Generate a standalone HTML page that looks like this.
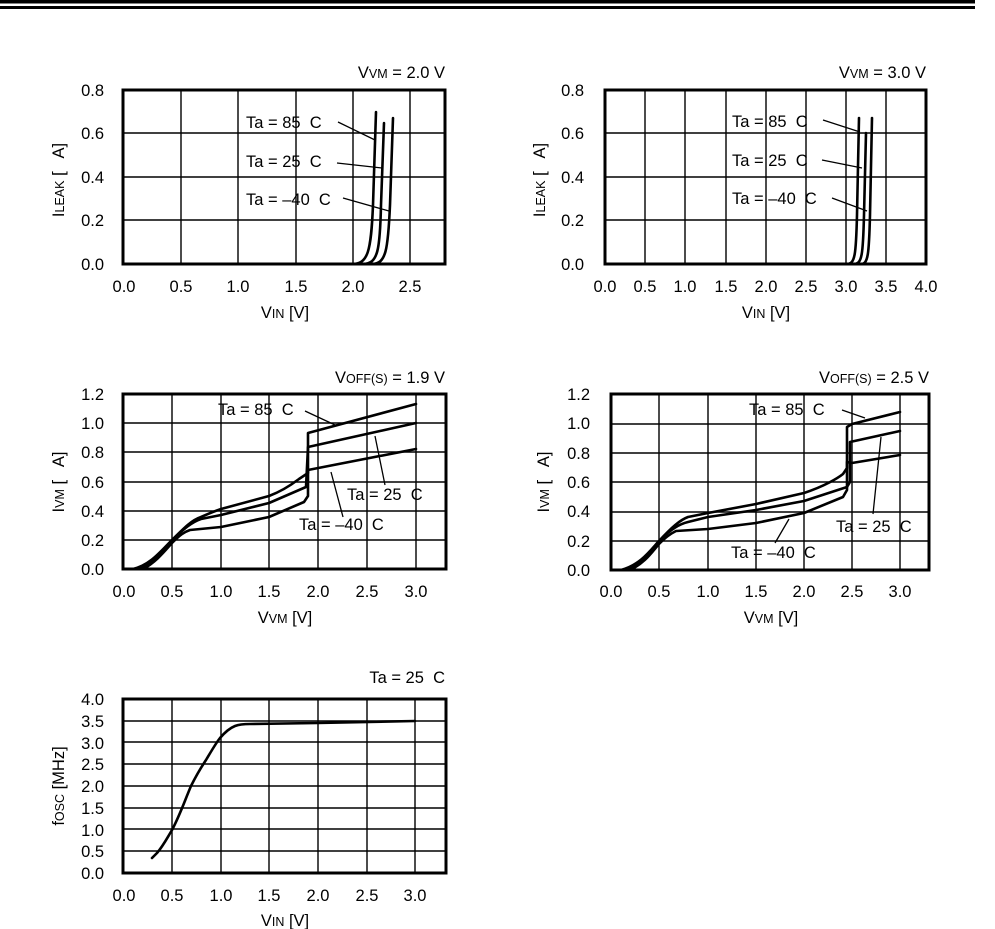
<!DOCTYPE html>
<html><head><meta charset="utf-8"><style>
html,body{margin:0;padding:0;background:#fff;}
svg{display:block;}
text{font-family:"Liberation Sans",Arial,sans-serif;font-size:16.5px;fill:#000;}
.sub{font-size:12.5px;}
.g{stroke:#000;stroke-width:1.4;fill:none;}
.b{stroke:#000;stroke-width:3;fill:none;}
.c{stroke:#000;stroke-width:2.6;fill:none;stroke-linejoin:round;stroke-linecap:round;}
.l{stroke:#000;stroke-width:1.3;fill:none;}
</style></head><body>
<svg width="995" height="929" viewBox="0 0 995 929" xmlns="http://www.w3.org/2000/svg">
<rect x="0" y="0" width="975" height="3.5" fill="#000"/>
<rect x="0" y="6" width="975" height="3" fill="#000"/>

<!-- Chart 1 -->
<g>
<path class="g" d="M123 220H445M123 177H445M123 133H445M181 90V264M238 90V264M296 90V264M353 90V264M410 90V264"/>
<rect class="b" x="123" y="90" width="322" height="174"/>
<path class="c" d="M123 264L352 264C368 264 371 252 373 205L376 112"/>
<path class="c" d="M123 264L363 264C378 264 380 250 381 205L384 123"/>
<path class="c" d="M123 264L372 264C386 264 388 250 390 205L393 118"/>
<path class="l" d="M338 122L375 140M337 163L382 168M343 198L389 211"/>
<text x="246" y="128">Ta = 85 &#160;C</text>
<text x="246" y="167">Ta = 25 &#160;C</text>
<text x="246" y="205">Ta = –40 &#160;C</text>
<text x="445" y="78" text-anchor="end">V<tspan class="sub">VM</tspan> = 2.0 V</text>
<g text-anchor="end"><text x="104" y="96">0.8</text><text x="104" y="139">0.6</text><text x="104" y="183">0.4</text><text x="104" y="226">0.2</text><text x="104" y="270">0.0</text></g>
<g text-anchor="middle"><text x="124" y="292">0.0</text><text x="181" y="292">0.5</text><text x="238" y="292">1.0</text><text x="296" y="292">1.5</text><text x="353" y="292">2.0</text><text x="410" y="292">2.5</text>
<text x="285" y="318">V<tspan class="sub">IN</tspan> [V]</text></g>
<text transform="translate(64,180) rotate(-90)" text-anchor="middle">I<tspan class="sub">LEAK</tspan> [ &#160; A]</text>
</g>

<!-- Chart 2 -->
<g>
<path class="g" d="M605 220H926M605 177H926M605 133H926M645 90V264M685 90V264M726 90V264M766 90V264M806 90V264M846 90V264M886 90V264"/>
<rect class="b" x="605" y="90" width="321" height="174"/>
<path class="c" d="M605 264L847 264C855 264 856 255 857 215L859 118"/>
<path class="c" d="M605 264L854 264C862 264 863 255 864 215L866 133"/>
<path class="c" d="M605 264L861 264C868 264 869 255 870 215L872 118"/>
<path class="l" d="M823 120L860 132M822 160L862 168M832 198L867 211"/>
<text x="732" y="127">Ta = 85 &#160;C</text>
<text x="732" y="166">Ta = 25 &#160;C</text>
<text x="732" y="204">Ta = –40 &#160;C</text>
<text x="926" y="78" text-anchor="end">V<tspan class="sub">VM</tspan> = 3.0 V</text>
<g text-anchor="end"><text x="584" y="96">0.8</text><text x="584" y="139">0.6</text><text x="584" y="183">0.4</text><text x="584" y="226">0.2</text><text x="584" y="270">0.0</text></g>
<g text-anchor="middle"><text x="605" y="292">0.0</text><text x="645" y="292">0.5</text><text x="685" y="292">1.0</text><text x="726" y="292">1.5</text><text x="766" y="292">2.0</text><text x="806" y="292">2.5</text><text x="846" y="292">3.0</text><text x="886" y="292">3.5</text><text x="926" y="292">4.0</text>
<text x="766" y="318">V<tspan class="sub">IN</tspan> [V]</text></g>
<text transform="translate(545,180) rotate(-90)" text-anchor="middle">I<tspan class="sub">LEAK</tspan> [ &#160; A]</text>
</g>

<!-- Chart 3 -->
<g>
<path class="g" d="M123 540H446M123 511H446M123 482H446M123 452H446M123 423H446M123 394H446M172 394V569M221 394V569M269 394V569M318 394V569M367 394V569M416 394V569"/>
<rect class="b" x="123" y="394" width="323" height="175"/>
<path class="c" d="M133 569C150 565 160 552 172 540C185 527 192 520 201 517C210 513 215 511 221 509L269 496C285 490 295 482 299 479L308 473L308 433L416 404"/>
<path class="c" d="M138 569C152 564 162 551 172 540C185 528 192 522 201 519L221 515L269 503L306 487L308 447L416 423"/>
<path class="c" d="M143 569C155 563 164 552 172 543C180 535 184 532 190 530L221 527L269 517L304 502L308 496L308 470L416 449"/>
<path class="l" d="M305 411L335 425M375 436L385 485M331 472L343 517"/>
<text x="218" y="415">Ta = 85 &#160;C</text>
<text x="347" y="500">Ta = 25 &#160;C</text>
<text x="299" y="530">Ta = –40 &#160;C</text>
<text x="445" y="383" text-anchor="end">V<tspan class="sub">OFF(S)</tspan> = 1.9 V</text>
<g text-anchor="end"><text x="104" y="400">1.2</text><text x="104" y="429">1.0</text><text x="104" y="458">0.8</text><text x="104" y="488">0.6</text><text x="104" y="517">0.4</text><text x="104" y="546">0.2</text><text x="104" y="575">0.0</text></g>
<g text-anchor="middle"><text x="124" y="597">0.0</text><text x="172" y="597">0.5</text><text x="221" y="597">1.0</text><text x="269" y="597">1.5</text><text x="318" y="597">2.0</text><text x="367" y="597">2.5</text><text x="416" y="597">3.0</text>
<text x="285" y="623">V<tspan class="sub">VM</tspan> [V]</text></g>
<text transform="translate(64,482) rotate(-90)" text-anchor="middle">I<tspan class="sub">VM</tspan> [ &#160; A]</text>
</g>

<!-- Chart 4 -->
<g>
<path class="g" d="M611 541H929M611 512H929M611 482H929M611 453H929M611 424H929M659 394V570M708 394V570M756 394V570M804 394V570M852 394V570M900 394V570"/>
<rect class="b" x="611" y="394" width="318" height="176"/>
<path class="c" d="M621 570C640 565 650 551 659 541C672 527 680 520 688 517L708 513L756 504L804 493C825 486 838 478 843 474L847 468L847 427L852 424L900 412"/>
<path class="c" d="M625 570C642 564 651 550 659 541C672 528 680 524 688 522L708 517L756 510L804 501L847 487L850 482L850 442L900 431"/>
<path class="c" d="M630 570C645 563 652 552 659 544C666 537 670 534 676 531L708 529L756 523L804 513L843 497L847 490L847 462L852 463L900 455"/>
<path class="l" d="M842 410L865 418M881 437L873 514M789 519L775 543"/>
<text x="749" y="415">Ta = 85 &#160;C</text>
<text x="836" y="532">Ta = 25 &#160;C</text>
<text x="731" y="558">Ta = –40 &#160;C</text>
<text x="929" y="383" text-anchor="end">V<tspan class="sub">OFF(S)</tspan> = 2.5 V</text>
<g text-anchor="end"><text x="590" y="400">1.2</text><text x="590" y="429">1.0</text><text x="590" y="459">0.8</text><text x="590" y="488">0.6</text><text x="590" y="517">0.4</text><text x="590" y="547">0.2</text><text x="590" y="576">0.0</text></g>
<g text-anchor="middle"><text x="611" y="597">0.0</text><text x="659" y="597">0.5</text><text x="708" y="597">1.0</text><text x="756" y="597">1.5</text><text x="804" y="597">2.0</text><text x="852" y="597">2.5</text><text x="900" y="597">3.0</text>
<text x="771" y="623">V<tspan class="sub">VM</tspan> [V]</text></g>
<text transform="translate(549,482) rotate(-90)" text-anchor="middle">I<tspan class="sub">VM</tspan> [ &#160; A]</text>
</g>

<!-- Chart 5 -->
<g>
<path class="g" d="M123 851H446M123 829H446M123 808H446M123 786H446M123 764H446M123 742H446M123 721H446M172 699V873M221 699V873M269 699V873M318 699V873M367 699V873M415 699V873"/>
<rect class="b" x="123" y="699" width="323" height="174"/>
<path class="c" d="M152 858L157 853C163 846 166 840 172 830C180 815 185 800 191 786C198 772 202 766 206 760C212 750 216 743 220 738C226 731 230 728 235 726C240 724 245 724 250 724L318 723L415 721"/>
<text x="445" y="683" text-anchor="end">Ta = 25 &#160;C</text>
<g text-anchor="end"><text x="104" y="705">4.0</text><text x="104" y="727">3.5</text><text x="104" y="749">3.0</text><text x="104" y="770">2.5</text><text x="104" y="792">2.0</text><text x="104" y="814">1.5</text><text x="104" y="836">1.0</text><text x="104" y="857">0.5</text><text x="104" y="879">0.0</text></g>
<g text-anchor="middle"><text x="124" y="901">0.0</text><text x="172" y="901">0.5</text><text x="221" y="901">1.0</text><text x="269" y="901">1.5</text><text x="318" y="901">2.0</text><text x="367" y="901">2.5</text><text x="415" y="901">3.0</text>
<text x="285" y="926">V<tspan class="sub">IN</tspan> [V]</text></g>
<text transform="translate(64,786) rotate(-90)" text-anchor="middle">f<tspan class="sub">OSC</tspan> [MHz]</text>
</g>
</svg>
</body></html>
